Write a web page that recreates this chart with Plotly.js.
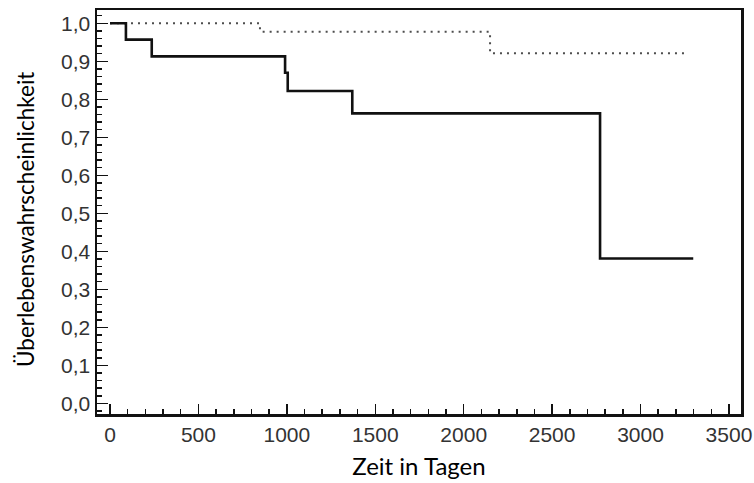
<!DOCTYPE html>
<html>
<head>
<meta charset="utf-8">
<script src="https://cdn.plot.ly/plotly-3.0.1.min.js"></script>
<style>html,body{margin:0;padding:0;background:#fff;}#chart{width:754px;height:483px;}</style>
</head>
<body>
<div id="chart"></div>
<script>
// Kaplan-Meier step data (time in days, survival probability)
var solidTimes = [0, 90, 236, 990, 1005, 1370, 2771, 3298];
var solidSurv  = [1.0, 0.957, 0.913, 0.870, 0.822, 0.763, 0.381, 0.381];

var dottedTimes = [0, 848, 2149, 3270];
var dottedSurv  = [1.0, 0.978, 0.921, 0.921];

var xTickVals = [0, 500, 1000, 1500, 2000, 2500, 3000, 3500];
var xTickText = ['0', '500', '1000', '1500', '2000', '2500', '3000', '3500'];
var yTickVals = [0, 0.1, 0.2, 0.3, 0.4, 0.5, 0.6, 0.7, 0.8, 0.9, 1.0];
var yTickText = ['0,0', '0,1', '0,2', '0,3', '0,4', '0,5', '0,6', '0,7', '0,8', '0,9', '1,0'];

var xTitle = 'Zeit in Tagen';
var yTitle = 'Überlebenswahrscheinlichkeit';

var traces = [
  {
    x: dottedTimes, y: dottedSurv, type: 'scatter', mode: 'lines',
    line: {shape: 'hv', color: '#4d4d4d', width: 2, dash: '2px,5px'},
    hoverinfo: 'skip', showlegend: false
  },
  {
    x: solidTimes, y: solidSurv, type: 'scatter', mode: 'lines',
    line: {shape: 'hv', color: '#111111', width: 2.6},
    hoverinfo: 'skip', showlegend: false
  }
];

var tickFont = {family: 'Liberation Sans, Arial, sans-serif', size: 21, color: '#333333'};

var layout = {
  width: 754, height: 483,
  margin: {l: 97, r: 13, t: 10, b: 69, pad: 0},
  paper_bgcolor: '#ffffff', plot_bgcolor: '#ffffff',
  showlegend: false,
  xaxis: {
    range: [-73.5, 3568],
    tickmode: 'array', tickvals: xTickVals, ticktext: xTickText,
    ticks: 'inside', ticklen: 10, tickwidth: 1.5, tickcolor: '#111',
    minor: {tick0: 0, dtick: 100, ticks: 'inside', ticklen: 5, tickwidth: 1.5, tickcolor: '#111', showgrid: false},
    showline: true, linecolor: '#111', linewidth: 2.5, mirror: true,
    showgrid: false, zeroline: false,
    tickfont: tickFont,
    title: {text: xTitle, font: {family: 'Lato, sans-serif', size: 24, color: '#000'}, standoff: 14}
  },
  yaxis: {
    range: [-0.028, 1.035],
    tickmode: 'array', tickvals: yTickVals, ticktext: yTickText,
    ticks: 'inside', ticklen: 11, tickwidth: 1.5, tickcolor: '#111',
    minor: {tick0: 0, dtick: 0.02, ticks: 'inside', ticklen: 5, tickwidth: 1.5, tickcolor: '#111', showgrid: false},
    showline: true, linecolor: '#111', linewidth: 2.5, mirror: true,
    showgrid: false, zeroline: false,
    tickfont: tickFont
  },
  annotations: [{
    text: yTitle, xref: 'paper', yref: 'paper', x: 0, y: 0.5,
    xanchor: 'center', yanchor: 'middle', xshift: -72, yshift: -8,
    textangle: -90, showarrow: false,
    font: {family: 'Lato, sans-serif', size: 22.5, color: '#000'}
  }]
};

Plotly.newPlot('chart', traces, layout, {staticPlot: true, displayModeBar: false});
</script>
</body>
</html>
